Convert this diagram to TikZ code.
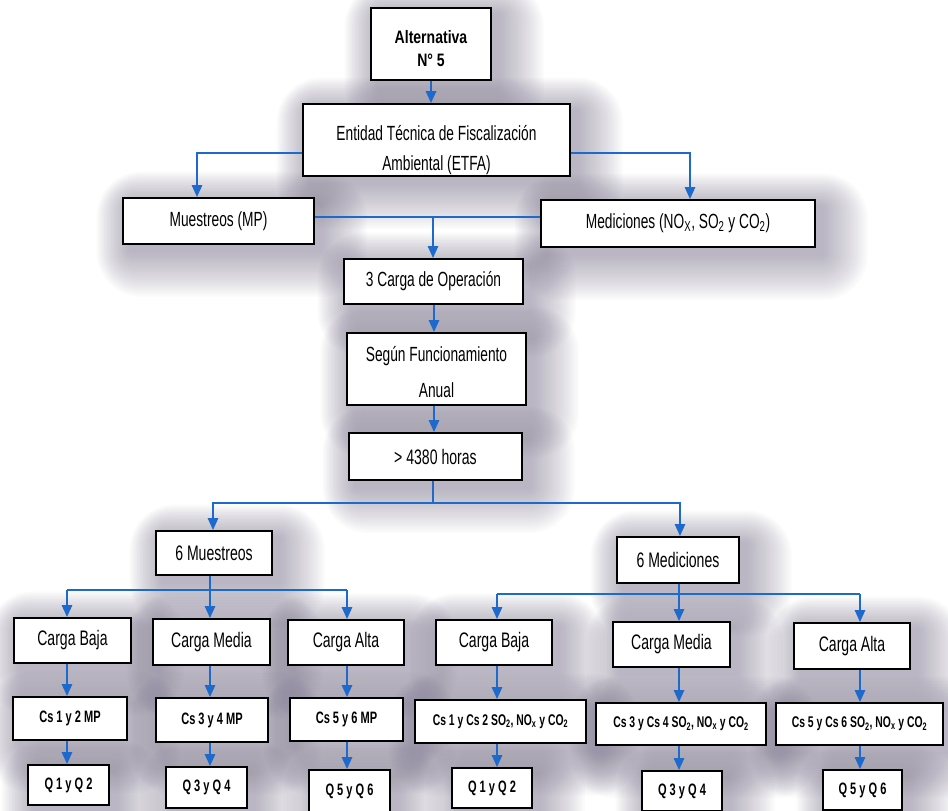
\documentclass[tikz,border=0pt]{standalone}
\usepackage{fontspec}
\setmainfont[FakeStretch=0.67]{Liberation Sans}
\newfontfamily\headfont[FakeStretch=0.78]{Liberation Sans}
\usetikzlibrary{arrows.meta,backgrounds,calc}
\definecolor{linkblue}{RGB}{30,106,204}
\definecolor{shadowtone}{RGB}{122,114,140}
\tikzset{
  box/.style={draw=black, line width=1.6pt, fill=white, inner sep=0pt,
    align=center, text=black, font=\fontsize{20.5}{30}\selectfont},
  sz/.style 2 args={minimum width=#1pt, minimum height=#2pt},
  headtext/.style={font=\headfont\bfseries\fontsize{18}{23}\selectfont},
  tallspace/.style={font=\fontsize{20.5}{36}\selectfont},
  loadtext/.style={font=\fontsize{21}{24}\selectfont},
  smallbold/.style={font=\bfseries\fontsize{16.5}{19}\selectfont},
  widebold/.style={font=\bfseries\fontsize{15.5}{18}\selectfont},
  link/.style={draw=linkblue, line width=2.4pt},
  arr/.style={link, -{Triangle[length=12pt,width=10pt]}},
  softshadow/.style={fill=shadowtone, fill opacity=0.026},
}
\begin{document}
\begin{tikzpicture}[x=1pt,y=-1pt]
\useasboundingbox (0,0) rectangle (948,811);

% main chain
\node[box, headtext, sz={120}{72}] (alt) at (431,44) {\rule{0pt}{22pt}Alternativa\\N° 5};
\node[box, sz={267}{72}] (etfa) at (436.5,140) {\rule{0pt}{36pt}Entidad Técnica de Fiscalización\\Ambiental (ETFA)};
\node[box, sz={191}{46}] (mues) at (218.5,221) {Muestreos (MP)};
\node[box, sz={274}{47}] (medi) at (678,223.5) {Mediciones (NO\textsubscript{X}, SO\textsubscript{2} y CO\textsubscript{2})};
\node[box, sz={179}{45}] (carga3) at (433.5,281.5) {3 Carga de Operación};
\node[box, tallspace, sz={179}{72}] (segun) at (436.5,369) {\rule{0pt}{22pt}Según Funcionamiento\\Anual};
\node[box, loadtext, sz={173}{47}] (h4380) at (435.5,456.5) {> 4380 horas};

% second level
\node[box, loadtext, sz={116}{44}] (m6) at (214,553) {6 Muestreos};
\node[box, loadtext, sz={122}{46}] (d6) at (678,560) {6 Mediciones};

% load levels
\node[box, loadtext, sz={117}{45}] (lb) at (72.5,640.5) {Carga Baja};
\node[box, loadtext, sz={117}{46}] (lm) at (211.5,642) {Carga Media};
\node[box, loadtext, sz={116}{45}] (la) at (346,642.5) {Carga Alta};
\node[box, loadtext, sz={116}{45}] (rb) at (494,642.5) {Carga Baja};
\node[box, loadtext, sz={117}{45}] (rm) at (671.5,644.5) {Carga Media};
\node[box, loadtext, sz={116}{46}] (ra) at (852,646) {Carga Alta};

% campaigns
\node[box, smallbold, sz={114}{43}] (lc1) at (70,718.5) {Cs 1 y 2 MP};
\node[box, smallbold, sz={112}{44}] (lc2) at (212,720) {Cs 3 y 4 MP};
\node[box, smallbold, sz={113}{43}] (lc3) at (346.5,719.5) {Cs 5 y 6 MP};
\node[box, widebold, sz={171}{43}] (rc1) at (500.5,721.5) {Cs 1 y Cs 2 SO\textsubscript{2}, NO\textsubscript{x} y CO\textsubscript{2}};
\node[box, widebold, sz={170}{42}] (rc2) at (681,724) {Cs 3 y Cs 4 SO\textsubscript{2}, NO\textsubscript{x} y CO\textsubscript{2}};
\node[box, widebold, sz={167}{42}] (rc3) at (859.5,724) {Cs 5 y Cs 6 SO\textsubscript{2}, NO\textsubscript{x} y CO\textsubscript{2}};

% flow rates
\node[box, smallbold, sz={81}{40}] (lq1) at (68.5,785) {Q 1 y Q 2};
\node[box, smallbold, sz={81}{41}] (lq2) at (206.5,787.5) {Q 3 y Q 4};
\node[box, smallbold, sz={81}{42}] (lq3) at (349.5,791) {Q 5 y Q 6};
\node[box, smallbold, sz={80}{40}] (rq1) at (492,788) {Q 1 y Q 2};
\node[box, smallbold, sz={80}{40}] (rq2) at (682,791) {Q 3 y Q 4};
\node[box, smallbold, sz={79}{40}] (rq3) at (862.5,790) {Q 5 y Q 6};

% junction points
\coordinate (c0) at (431,0);
\coordinate (spine) at (434,0);
\coordinate (eL) at (197,153);
\coordinate (eR) at (690,153);
\coordinate (j1) at (433,217);
\coordinate (j2) at (433,503);
\coordinate (mL) at (213,503);
\coordinate (mR) at (680,503);
\coordinate (a1) at (67,590);
\coordinate (a2) at (210,590);
\coordinate (a3) at (347,590);
\coordinate (b1) at (497,594);
\coordinate (b2) at (679,594);
\coordinate (b3) at (860,594);

% connectors
\draw[arr] (alt.south -| c0) -- (etfa.north -| c0);
\draw[arr] (etfa.west |- eL) -| (mues.north -| eL);
\draw[arr] (etfa.east |- eR) -| (medi.north -| eR);
\draw[link] (mues.east |- j1) -- (medi.west |- j1);
\draw[arr] (j1) -- (carga3.north -| j1);
\draw[arr] (carga3.south -| spine) -- (segun.north -| spine);
\draw[arr] (segun.south -| spine) -- (h4380.north -| spine);
\draw[link] (h4380.south -| j2) -- (j2);
\draw[arr] (j2) -| (m6.north -| mL);
\draw[arr] (j2) -| (d6.north -| mR);

\draw[link] (m6.south -| a2) -- (a2);
\draw[link] (a1) -- (a3);
\draw[arr] (a1) -- (lb.north -| a1);
\draw[arr] (a2) -- (lm.north -| a2);
\draw[arr] (a3) -- (la.north -| a3);
\draw[link] (d6.south -| b2) -- (b2);
\draw[link] (b1) -- (b3);
\draw[arr] (b1) -- (rb.north -| b1);
\draw[arr] (b2) -- (rm.north -| b2);
\draw[arr] (b3) -- (ra.north -| b3);

\draw[arr] (lb.south -| a1) -- (lc1.north -| a1);
\draw[arr] (lm.south -| a2) -- (lc2.north -| a2);
\draw[arr] (la.south -| a3) -- (lc3.north -| a3);
\draw[arr] (rb.south -| b1) -- (rc1.north -| b1);
\draw[arr] (rm.south -| b2) -- (rc2.north -| b2);
\draw[arr] (ra.south -| b3) -- (rc3.north -| b3);
\draw[arr] (lc1.south -| a1) -- (lq1.north -| a1);
\draw[arr] (lc2.south -| a2) -- (lq2.north -| a2);
\draw[arr] (lc3.south -| a3) -- (lq3.north -| a3);
\draw[arr] (rc1.south -| b1) -- (rq1.north -| b1);
\draw[arr] (rc2.south -| b2) -- (rq2.north -| b2);
\draw[arr] (rc3.south -| b3) -- (rq3.north -| b3);

% paper and soft drop shadows behind the boxes
\begin{scope}[on background layer]
  \fill[white] (0,0) rectangle (948,811);
  \foreach \n in {alt,etfa,mues,medi,carga3,segun,h4380,m6,d6,
                  lb,lm,la,rb,rm,ra,lc1,lc2,lc3,rc1,rc2,rc3,lq1,lq2,lq3,rq1,rq2,rq3} {
    \foreach \k in {0,...,21} {
      \pgfmathsetmacro{\lo}{6-1.5*\k}
      \pgfmathsetmacro{\hi}{8+2.1*\k}
      \pgfmathsetmacro{\rc}{3+2*\k}
      \path[softshadow, rounded corners=\rc pt]
        ($(\n.north west)+(\lo,\lo)$) rectangle ($(\n.south east)+(\hi,\hi)$);
    }
  }
\end{scope}
\end{tikzpicture}
\end{document}
